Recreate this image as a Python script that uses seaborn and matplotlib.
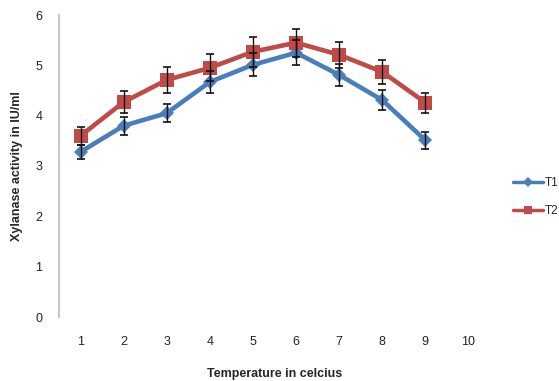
import matplotlib
matplotlib.use("Agg")
import matplotlib.pyplot as plt
from matplotlib.lines import Line2D
import seaborn as sns
import pandas as pd
import numpy as np

# Data
temperature = [1, 2, 3, 4, 5, 6, 7, 8, 9]
x_categories = [1, 2, 3, 4, 5, 6, 7, 8, 9, 10]
t1_values = [3.28, 3.80, 4.05, 4.67, 5.01, 5.25, 4.81, 4.31, 3.51]
t1_errors = [0.14, 0.18, 0.18, 0.22, 0.23, 0.25, 0.22, 0.20, 0.17]
t2_values = [3.60, 4.27, 4.71, 4.95, 5.27, 5.45, 5.21, 4.87, 4.26]
t2_errors = [0.18, 0.22, 0.25, 0.27, 0.30, 0.28, 0.26, 0.24, 0.20]
series_names = ["T1", "T2"]
y_ticks = [0, 1, 2, 3, 4, 5, 6]

sns.set_style("white")
plt.rcParams["font.family"] = ["Liberation Sans", "DejaVu Sans"]

df = pd.DataFrame({
    "Temperature": temperature * 2,
    "Activity": t1_values + t2_values,
    "Series": [series_names[0]] * len(temperature) + [series_names[1]] * len(temperature),
})

blue = "#4A7EBB"
red = "#BE4B48"
palette = {"T1": blue, "T2": red}

fig = plt.figure(figsize=(5.59, 3.81), dpi=100)
ax = fig.add_axes([59 / 559, 1 - 317 / 381, (490 - 59) / 559, (317 - 15) / 381])

sns.lineplot(data=df, x="Temperature", y="Activity", hue="Series", style="Series",
             markers={"T1": "D", "T2": "s"}, dashes=False, palette=palette,
             linewidth=3.3, markersize=8, markeredgewidth=0, ax=ax, legend=False,
             zorder=2)
for line, ms in zip(ax.lines, [7.5, 10]):
    line.set_markersize(ms)

ax.errorbar(temperature, t1_values, yerr=t1_errors, fmt="none", ecolor="#111111",
            elinewidth=1.0, capsize=3, capthick=1.2, zorder=3)
ax.errorbar(temperature, t2_values, yerr=t2_errors, fmt="none", ecolor="#111111",
            elinewidth=1.0, capsize=3, capthick=1.2, zorder=3)

ax.set_xlim(0.5, 10.5)
ax.set_ylim(0, 6)
ax.set_xticks(x_categories)
ax.set_xticklabels([str(c) for c in x_categories])
ax.set_xticks([c + 0.5 for c in x_categories], minor=True)
ax.set_yticks(y_ticks)
ax.set_yticklabels([str(v) for v in y_ticks])

for s in ["top", "right", "bottom"]:
    ax.spines[s].set_visible(False)
ax.spines["left"].set_color("#C8C8C8")
ax.spines["left"].set_linewidth(1.5)

ax.tick_params(axis="x", which="major", length=0, pad=14, labelsize=9, labelcolor="#222222")
ax.tick_params(axis="x", which="minor", length=3, width=1.2, direction="in", color="#C8C8C8")
ax.tick_params(axis="y", which="major", length=3, width=1, direction="out", color="#C8C8C8",
               pad=9, labelsize=9, labelcolor="#222222")

ax.set_xlabel("Temperature in celcius", fontsize=9, fontweight="bold", labelpad=14)
ax.set_ylabel("Xylanase activity in IU/ml", fontsize=9, fontweight="bold", labelpad=9)
ax.grid(False)

handles = [
    Line2D([0], [0], color=blue, lw=2.5, marker="D", markersize=5, markeredgewidth=0),
    Line2D([0], [0], color=red, lw=2.5, marker="s", markersize=6, markeredgewidth=0),
]
fig.legend(handles, series_names, loc="center left", bbox_to_anchor=(509 / 559, 1 - 197 / 381),
           frameon=False, fontsize=8.5, handlelength=2.6, handletextpad=0.15, labelspacing=1.3,
           borderaxespad=0, borderpad=0.3)

fig.savefig("out.png", dpi=100)
